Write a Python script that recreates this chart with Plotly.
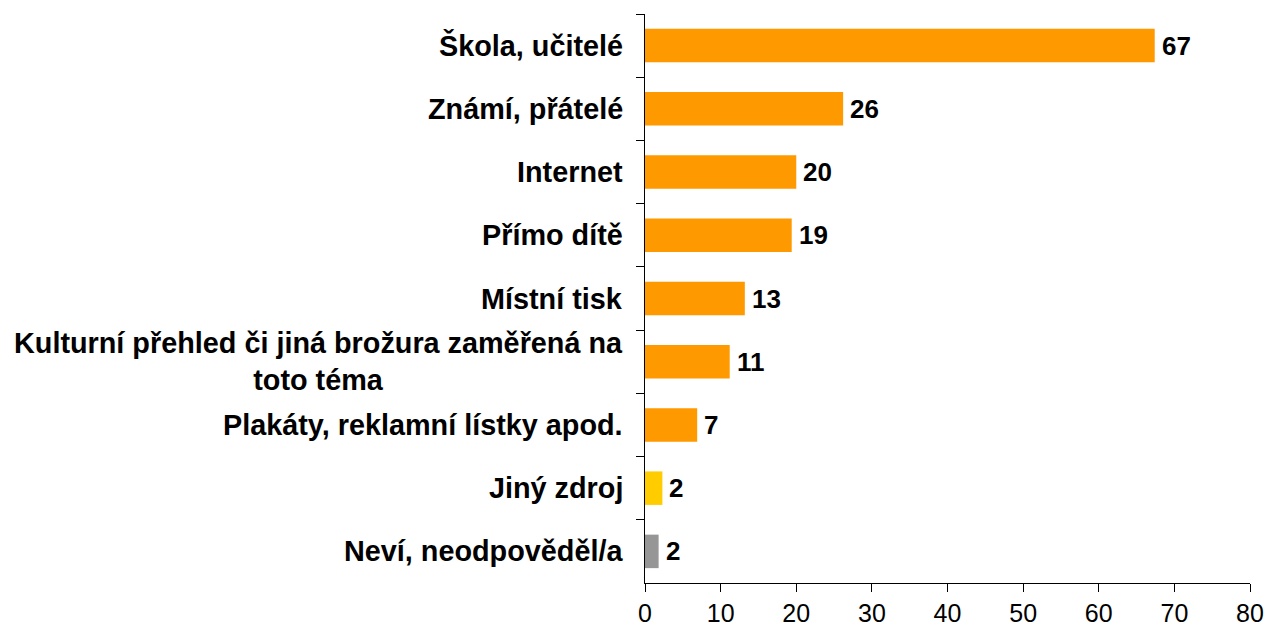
import plotly.graph_objects as go

categories = [
    "Škola, učitelé",
    "Známí, přátelé",
    "Internet",
    "Přímo dítě",
    "Místní tisk",
    "Kulturní přehled či jiná brožura zaměřená na<br>toto téma",
    "Plakáty, reklamní lístky apod.",
    "Jiný zdroj",
    "Neví, neodpověděl/a",
]
values = [67.4, 26.2, 20.0, 19.4, 13.2, 11.2, 6.9, 2.3, 1.8]
value_labels = ["67", "26", "20", "19", "13", "11", "7", "2", "2"]
colors = ["#FF9900"] * 7 + ["#FFCC00", "#969696"]
x_ticks = [0, 10, 20, 30, 40, 50, 60, 70, 80]

fig = go.Figure()
fig.add_trace(go.Bar(
    y=categories,
    x=values,
    orientation="h",
    marker=dict(color=colors, line=dict(width=0)),
    cliponaxis=False,
    hoverinfo="skip",
))

for cat, val, lab in zip(categories, values, value_labels):
    fig.add_annotation(
        x=0, xref="paper", y=cat, yref="y",
        text="<b>" + cat + "</b>",
        xanchor="right", xshift=-20, align="center",
        showarrow=False,
        font=dict(family="Liberation Sans", size=28.8, color="#000000"),
    )
    fig.add_annotation(
        x=val, xref="x", y=cat, yref="y",
        text="<b>" + lab + "</b>",
        xanchor="left", xshift=5,
        showarrow=False,
        font=dict(family="Liberation Sans", size=26, color="#000000"),
    )

fig.update_layout(
    width=1268, height=635,
    margin=dict(l=645, r=18, t=14, b=52),
    paper_bgcolor="white", plot_bgcolor="white",
    bargap=0.47,
    showlegend=False,
    font=dict(family="Liberation Sans", color="#000000"),
)
fig.update_xaxes(
    range=[0, 80], tickvals=x_ticks,
    automargin=False,
    showgrid=False, zeroline=False,
    showline=True, linecolor="#000000", linewidth=1,
    ticks="outside", ticklen=8, tickcolor="#000000",
    tickfont=dict(family="Liberation Sans", size=25, color="#000000"),
)
fig.update_yaxes(
    autorange="reversed",
    automargin=False,
    showticklabels=False,
    showgrid=False, zeroline=False,
    showline=True, linecolor="#000000", linewidth=1,
    ticks="outside", ticklen=8, tickcolor="#000000",
    tickson="boundaries",
)

fig.write_html(
    "out.html",
    config={"displayModeBar": False},
    post_script="document.body.style.margin='0';document.body.style.overflow='hidden';",
)
